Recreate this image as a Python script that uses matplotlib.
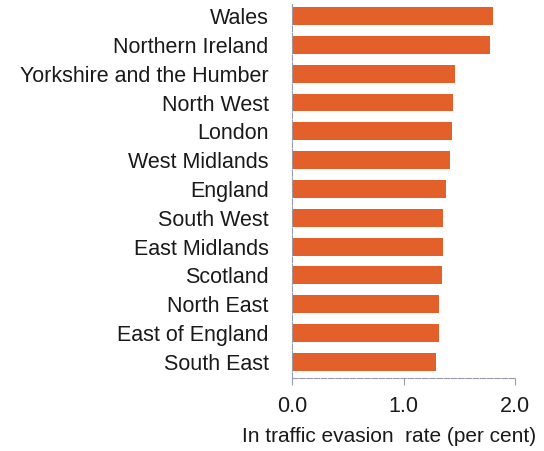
import matplotlib
matplotlib.use("Agg")
import matplotlib.pyplot as plt

# regions, top to bottom as in the chart
regions = ["Wales", "Northern Ireland", "Yorkshire and the Humber", "North West",
           "London", "West Midlands", "England", "South West", "East Midlands",
           "Scotland", "North East", "East of England", "South East"]
evasion = [1.80, 1.77, 1.46, 1.44, 1.43, 1.42, 1.38, 1.35, 1.35, 1.34, 1.32, 1.32, 1.29]

xticks = [0.0, 1.0, 2.0]
xtick_labels = ["0.0", "1.0", "2.0"]

plt.rcParams["font.family"] = ["Liberation Sans", "DejaVu Sans"]
fs = 15.5

fig = plt.figure(figsize=(5.44, 4.51), dpi=100)
ax = fig.add_axes([0.537, 0.162, 0.41, 0.831])

pos = list(range(len(regions)))[::-1]
ax.barh(pos, evasion, height=0.62, color="#e3602a")

ax.set_xlim(0, 2.0)
ax.set_ylim(-0.56, len(regions) - 1 + 0.45)
ax.set_yticks(pos)
ax.set_yticklabels(regions, fontsize=fs, color="#1a1a1a")
ax.set_xticks(xticks)
ax.set_xticklabels(xtick_labels, fontsize=fs, color="#1a1a1a")
ax.tick_params(axis="y", length=0, pad=17)
ax.tick_params(axis="x", length=5, width=0.8, color="#9a9aa8", pad=8)

for s in ["top", "right"]:
    ax.spines[s].set_visible(False)
for s in ["left", "bottom"]:
    ax.spines[s].set_color("#9a9aa8")
    ax.spines[s].set_linewidth(0.8)
    ax.spines[s].set_linestyle((0, (5, 1.5)))

ax.set_xlabel("In traffic evasion  rate (per cent)", fontsize=15, color="#1a1a1a")
ax.xaxis.set_label_coords(0.435, -0.13)

fig.savefig("out.png", dpi=100)
